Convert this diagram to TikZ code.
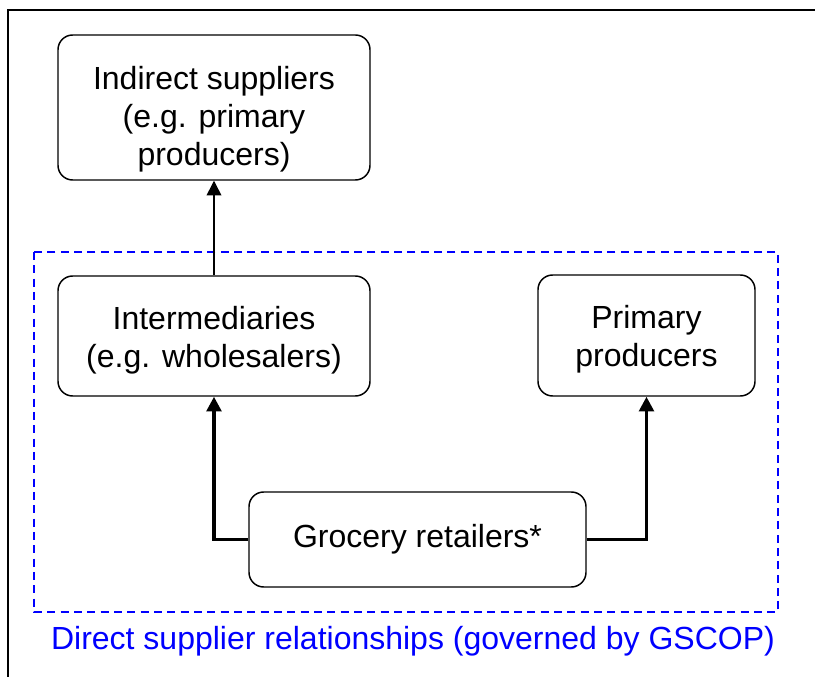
\documentclass[tikz,border=0pt]{standalone}
\usepackage{fontspec}
\setmainfont{Liberation Sans}
\usetikzlibrary{arrows.meta}

\begin{document}
\begin{tikzpicture}[
    x=0.75pt, y=-0.75pt,
    party/.style={
        rectangle,
        draw=black,
        line width=1.1pt,
        fill=white,
        minimum width=234pt,
        align=center,
        font=\fontsize{24}{28.5}\selectfont,
        rounded corners=11pt
    },
    link/.style={
        -{Triangle[length=11pt,width=11pt]},
        line width=1.1pt,
        black
    },
    mainlink/.style={
        link,
        line width=2.6pt
    },
    scopebox/.style={
        draw=blue,
        dashed,
        dash pattern=on 6pt off 4pt,
        line width=1pt
    },
    note/.style={
        font=\fontsize{24}{28.5}\selectfont,
        text=blue
    }
]

\useasboundingbox (0,0) rectangle (815,677);

% Outer frame (runs off the page on the right and bottom)
\draw[line width=1.1pt] (8,10) rectangle (830,700);

% Direct supplier area
\draw[scopebox] (34,252) rectangle (778,612);
\node[note] (scopelabel) at (413,641) {Direct supplier relationships (governed by GSCOP)};

% Parties
\node[party, minimum height=108.75pt] (indirect) at (214,107.5) {\rule{0pt}{35pt}Indirect suppliers\\(e.g. primary\\producers)};
\node[party, minimum height=90pt] (inter) at (214,336) {\rule{0pt}{23pt}Intermediaries\\(e.g. wholesalers)};
\node[party, minimum width=162.75pt, minimum height=90.75pt] (primary) at (646.5,335.5) {\rule{0pt}{23pt}Primary\\producers};
\node[party, minimum width=252.75pt, minimum height=71.25pt] (grocer) at (417.5,539.5) {Grocery retailers*};

% Links
\draw[link] (inter.north) -- (indirect.south);
\draw[mainlink] (grocer.west) -| (inter.south);
\draw[mainlink] (grocer.east) -| (primary.south);

\end{tikzpicture}
\end{document}
